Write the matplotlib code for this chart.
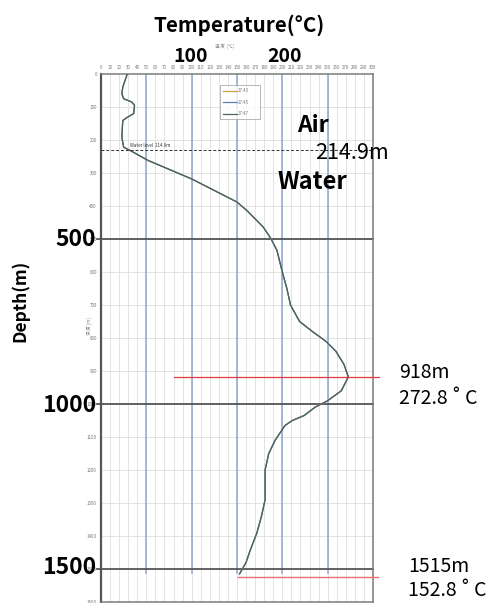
import numpy as np
import matplotlib.pyplot as plt

plt.rcParams['font.family'] = ['Noto Sans CJK JP', 'DejaVu Sans']

# well log readings (depth m, temperature C)
depth = [0, 40, 60, 75, 85, 95, 120, 133, 141, 192, 222, 230, 262, 318, 388,
         414, 464, 497, 534, 600, 650, 700, 750, 780, 810, 840, 880, 918, 960,
         990, 1010, 1035, 1050, 1065, 1110, 1150, 1200, 1250, 1290, 1340, 1390,
         1440, 1480, 1515]
temp = [29, 24, 23, 25, 34, 37, 36, 28, 24, 23, 25, 31, 52, 100, 150,
        161, 179, 187, 194, 200, 205, 209, 219, 233, 248, 259, 268, 272.8, 265,
        250, 236, 224, 211, 203, 192, 185, 181, 181, 181, 177, 172,
        165, 160, 152.8]
series_names = ['17:43', '17:45', '17:47']
series_colors = ['#c9a24e', '#5b80b2', '#4d645e']

water_level = 230      # where the dashed line sits in the picture
peak_depth, peak_temp = 918, 272.8
bottom_depth, bottom_temp = 1515, 152.8

W, H = 494, 603
fig = plt.figure(figsize=(W / 100, H / 100), dpi=100)
ax = fig.add_axes([101 / W, 1 / H, 272 / W, 528 / H])

ax.set_xlim(0, 300)
ax.set_ylim(1600, 0)

# light grid
for t in range(10, 300, 10):
    ax.axvline(t, color='#dedede', lw=0.6, zorder=0)
for d in range(100, 1600, 100):
    ax.axhline(d, color='#dedede', lw=0.6, zorder=0)

# blue reference lines every 50 C
for t in [50, 100, 150, 200, 250]:
    ax.plot([t, t], [0, 1512], color='#8ea6cf', lw=1.1, zorder=1)

# dark lines at 500 / 1000 / 1500 m
for d in [500, 1000, 1500]:
    ax.plot([-4, 300], [d, d], color='#555555', lw=1.3, zorder=2, clip_on=False)

# temperature profiles
for name, c in zip(series_names, series_colors):
    ax.plot(temp, depth, color=c, lw=0.9, label=name, zorder=3)

# water level
ax.plot([0, 300], [water_level, water_level], color='#333333', lw=0.7,
        ls=(0, (3, 2)), zorder=4, clip_on=False)
ax.text(32, water_level - 10, 'Water level  214.9m', fontsize=3.2, color='#333333')

# red markers
ax.plot([80, 307], [peak_depth, peak_depth], color='#e03a3a', lw=0.9,
        zorder=5, clip_on=False)
ax.plot([bottom_temp - 2, 305], [bottom_depth + 8, bottom_depth + 8],
        color='#e87070', lw=1.0, zorder=5, clip_on=False)

# ticks
ax.xaxis.tick_top()
ax.set_xticks(range(0, 301, 10))
ax.set_yticks(range(0, 1601, 100))
ax.set_xticklabels([str(v) for v in range(0, 301, 10)])
ax.set_yticklabels([str(v) for v in range(0, 1601, 100)])
ax.tick_params(axis='both', length=0, labelsize=3.2, colors='#777777', pad=3)

for s in ax.spines.values():
    s.set_color('#7a7a7a')
    s.set_linewidth(1.1)
ax.spines['left'].set_color('#555555')
ax.spines['left'].set_linewidth(1.6)

leg = ax.legend(loc='upper left', mode='expand',
                bbox_to_anchor=(129 / 300, 1 - 27 / 1600, 49 / 300, 0.0),
                fontsize=3.2, frameon=True, fancybox=False, labelspacing=1.45,
                borderpad=0.7, handlelength=3.0, handletextpad=0.3)
leg.get_frame().set_edgecolor('#999999')
leg.get_frame().set_linewidth(0.6)
for t in leg.get_texts():
    t.set_color('#777777')

# small native axis labels
fig.text(225 / W, 1 - 46 / H, '温 度  [℃]', fontsize=3.2, color='#888888',
         ha='center', va='center')
fig.text(89 / W, 1 - 326 / H, '深 度 [m]', fontsize=3.2, color='#888888',
         ha='center', va='center', rotation=90)

# large overlay text
def ftxt(x, y, s, **kw):
    fig.text(x / W, 1 - y / H, s, **kw)

ftxt(239, 25, 'Temperature(°C)', fontsize=14.8, fontweight='bold', ha='center', va='center')
ftxt(191, 57, '100', fontsize=14, fontweight='bold', ha='center', va='center')
ftxt(285, 57, '200', fontsize=14, fontweight='bold', ha='center', va='center')
ftxt(20, 301, 'Depth(m)', fontsize=12.5, fontweight='bold', ha='center', va='center',
     rotation=90)
for lab, y in [('500', 240), ('1000', 406), ('1500', 567)]:
    ftxt(96, y, lab, fontsize=16.5, fontweight='bold', ha='right', va='center')
ftxt(313, 125, 'Air', fontsize=16.5, fontweight='bold', ha='center', va='center')
ftxt(352, 153, '214.9m', fontsize=15.5, ha='center', va='center')
ftxt(312, 182, 'Water', fontsize=17, fontweight='bold', ha='center', va='center')
ftxt(399, 372, f'{peak_depth}m', fontsize=14, ha='left', va='center')
ftxt(399, 398, f'{peak_temp}\u2009˚\u2009C', fontsize=14, ha='left', va='center')
ftxt(408, 567, f'{bottom_depth}m', fontsize=14, ha='left', va='center')
ftxt(408, 591, f'{bottom_temp}\u2009˚\u2009C', fontsize=14, ha='left', va='center')

fig.savefig('out.png', dpi=100)
